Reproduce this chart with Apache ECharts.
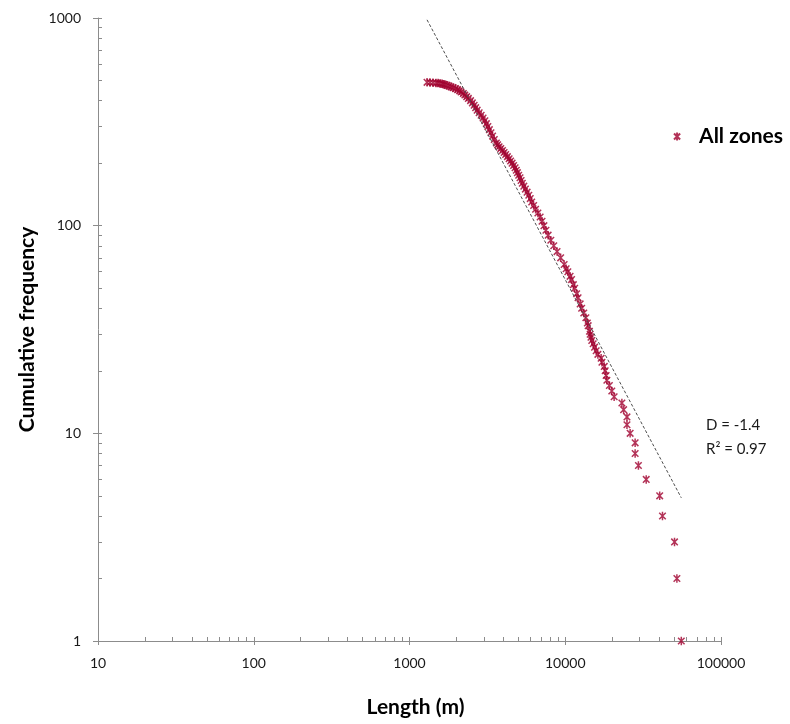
<!DOCTYPE html>
<html>
<head>
<meta charset="utf-8">
<script src="https://cdn.jsdelivr.net/npm/echarts@6/dist/echarts.min.js"></script>
<style>
  html, body { margin: 0; padding: 0; background: #ffffff; }
  #chart { width: 790px; height: 724px; }
</style>
</head>
<body>
<div id="chart"></div>
<script>
// ---- data ----
var seriesName = 'All zones';
// lengths (m) of the plotted points
var lengths = [1296,1354,1416,1480,1525,1571,1618,1654,1691,1742,1794,1848,1904,1975,2035,2096,2142,2217,2267,2328,
  2387,2466,2533,2601,2660,2719,2801,2885,2967,3048,3116,3186,3257,3335,3415,3502,3612,3681,3760,3855,
  3954,4049,4146,4252,4360,4458,4558,4660,4764,4850,4929,5024,5122,5207,5300,5419,5548,5690,5834,5958,
  6091,6266,6451,6674,6898,7094,7296,7516,7765,8079,8437,8859,9342,9838,10134,10391,10737,10978,11273,11495,
  11839,12088,12467,12747,13149,13564,13868,14034,14305,14454,14626,14800,15110,15426,15796,16198,17000,17200,17800,18050,
  18300,18500,19200,19900,20600,23100,23700,24900,24900,26100,28100,28100,29500,33100,40400,42100,50300,52100,55600];
// cumulative frequency of each point
var freqs = [490,489,488,487,486,484,482,480,477,474,470,466,462,457,452,446,440,433,426,418,
  410,400,390,380,370,360,350,340,330,320,310,300,290,280,270,260,250,245,240,235,
  230,225,220,215,210,205,200,195,190,185,180,175,170,165,160,155,150,145,140,135,
  130,125,120,115,110,105,100,95,90,85,80,75,70,65,62,60,57,55,52,50,
  47,45,42,40,38,36,34,33,31,30,29,28,27,26,25,24,23,22,21,20,
  19,18,17,16,15,14,13,12,11,10,9,8,7,6,5,4,3,2,1];
// power-law trendline  y = fitCoeff * x ^ fitExponent
var fitExponent = -1.41;
var fitCoeff = Math.pow(10, 7.38);
var fitLabels = ['D = -1.4', 'R\u00B2 = 0.97'];
// axis ranges and ticks
var xMajorTicks = [10, 100, 1000, 10000, 100000];
var yMajorTicks = [1, 10, 100, 1000];
var minorSteps = [2, 3, 4, 5, 6, 7, 8, 9];

function minorsOf(majors) {
  var out = [];
  for (var i = 0; i < majors.length - 1; i++) {
    for (var j = 0; j < minorSteps.length; j++) out.push(majors[i] * minorSteps[j]);
  }
  return out;
}
var xInnerTicks = xMajorTicks.concat(minorsOf(xMajorTicks));
var yInnerTicks = yMajorTicks.concat(minorsOf(yMajorTicks));

var points = lengths.map(function (l, i) { return [l, freqs[i]]; });
var xMin = Math.min.apply(null, lengths), xMax = Math.max.apply(null, lengths);
var trend = [[xMin, fitCoeff * Math.pow(xMin, fitExponent)], [xMax, fitCoeff * Math.pow(xMax, fitExponent)]];

var axisColor = '#8c8c8c';
var font = 'Lato, "Open Sans", sans-serif';
var starPath = 'path://M0,0L10,10M10,0L0,10M5,-1.5L5,11.5';
var markColor = '#A0002E';

var chart = echarts.init(document.getElementById('chart'), null, { renderer: 'canvas' });
chart.setOption({
  animation: false,
  backgroundColor: '#ffffff',
  textStyle: { fontFamily: font },
  grid: { left: 98, right: 69, top: 18, bottom: 83, containLabel: false },
  legend: {
    data: [seriesName],
    left: 668, top: 121,
    itemWidth: 8, itemHeight: 8,
    textStyle: { fontSize: 21, fontWeight: 'bold', color: '#000', fontFamily: font, padding: [0, 0, 0, 13] }
  },
  xAxis: [{
    type: 'log', logBase: 10, min: 10, max: 100000,
    position: 'bottom',
    name: 'Length (m)', nameLocation: 'middle', nameGap: 56,
    nameTextStyle: { fontSize: 21, fontWeight: 'bold', color: '#000', fontFamily: font, padding: [0, 0, 0, 12] },
    axisLine: { show: true, lineStyle: { color: axisColor, width: 1 } },
    axisTick: { show: true, inside: false, length: 4, lineStyle: { color: axisColor } },
    axisLabel: { fontSize: 14, color: '#1a1a1a', margin: 15, fontFamily: font, formatter: function (v) { return String(v); } },
    splitLine: { show: false }, minorSplitLine: { show: false }
  }, {
    type: 'log', logBase: 10, min: 10, max: 100000,
    position: 'bottom',
    axisLine: { show: false },
    axisTick: { show: true, inside: true, length: 4, customValues: xInnerTicks, lineStyle: { color: axisColor } },
    axisLabel: { show: false },
    splitLine: { show: false }
  }],
  yAxis: [{
    type: 'log', logBase: 10, min: 1, max: 1000,
    position: 'left',
    name: 'Cumulative frequency', nameLocation: 'middle', nameGap: 60, nameRotate: 90,
    nameTextStyle: { fontSize: 21, fontWeight: 'bold', color: '#000', fontFamily: font },
    axisLine: { show: true, lineStyle: { color: axisColor, width: 1 } },
    axisTick: { show: true, inside: false, length: 5, lineStyle: { color: axisColor } },
    axisLabel: { fontSize: 14, color: '#1a1a1a', margin: 17, fontFamily: font, formatter: function (v) { return String(v); } },
    splitLine: { show: false }
  }, {
    type: 'log', logBase: 10, min: 1, max: 1000,
    position: 'left',
    axisLine: { show: false },
    axisTick: { show: true, inside: true, length: 4, customValues: yInnerTicks, lineStyle: { color: axisColor } },
    axisLabel: { show: false },
    splitLine: { show: false }
  }],
  graphic: [
    { type: 'text', left: 706, top: 413, style: { text: fitLabels[0] + '\n' + fitLabels[1], fontSize: 15, lineHeight: 24, fill: '#1a1a1a', fontFamily: font, align: 'center' } }
  ],
  series: [{
    name: seriesName,
    type: 'scatter',
    data: points,
    symbol: starPath,
    symbolSize: 8.5,
    symbolKeepAspect: true,
    itemStyle: { color: markColor, borderColor: markColor, borderWidth: 1.5 },
    z: 2
  }, {
    name: 'trend',
    type: 'line',
    data: trend,
    showSymbol: false,
    symbol: 'none',
    silent: true,
    lineStyle: { color: '#4d4d4d', width: 1, type: [3, 2] },
    z: 3
  }]
});
</script>
</body>
</html>
